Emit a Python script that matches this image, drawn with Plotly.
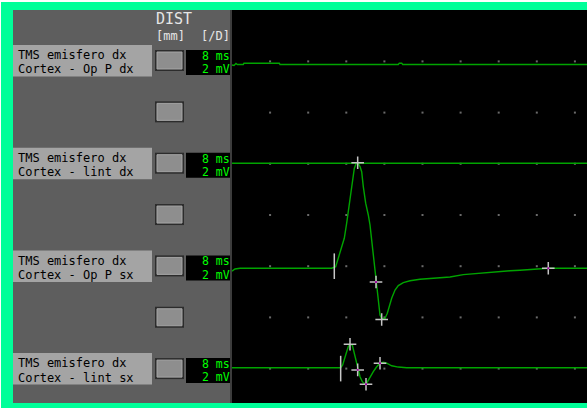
import plotly.graph_objects as go

W, H = 587, 409

# ---- channel labels -------------------------------------------------------
label_top = ["TMS emisfero dx", "TMS emisfero dx", "TMS emisfero dx", "TMS emisfero dx"]
label_bottom = ["Cortex - Op P dx", "Cortex - lint dx", "Cortex - Op P sx", "Cortex - lint sx"]
time_div = ["8 ms", "8 ms", "8 ms", "8 ms"]
amp_div = ["2 mV", "2 mV", "2 mV", "2 mV"]

# ---- traces: time (ms) and amplitude (mV) -------------------------------
t1 = [0, 0.42, 0.84, 1.11, 2.37, 2.52, 9.93, 10.08, 34.92, 35.13, 35.63, 35.84, 74.54]
v1 = [-0.14, -0.16, -0.08, -0.12, -0.12, -0.07, -0.07, -0.12, -0.12, -0.07, -0.07, -0.12, -0.12]

t2 = [0, 74.54]
v2 = [0.02, 0.02]

t3 = [0, 0.63, 1.68, 20.93, 21.77, 22.32, 23.03, 23.58, 24.08, 24.57, 24.99, 25.34,
      25.68, 26.04, 26.39, 26.88, 27.23, 27.57, 28.07, 28.62, 28.98, 29.33, 29.67,
      30.03, 30.38, 30.72, 31.08, 31.43, 32.13, 32.61, 33.03, 33.53, 34.23, 34.92,
      35.97, 37.38, 39.48, 42.27, 45.77, 48.57, 51.38, 54.17, 55.92, 58.37, 60.47,
      62.57, 65.36, 66.41, 74.54]
v3 = [-0.19, -0.11, -0.08, -0.08, -0.02, 0.31, 0.70, 1.09, 1.68, 2.32, 2.98, 3.43,
      3.82, 3.99, 4.04, 3.89, 3.69, 3.11, 2.46, 2.00, 1.61, 1.02, 0.44,
      -0.15, -0.80, -1.45, -1.91, -2.04, -2.04, -1.84, -1.58, -1.25, -0.93, -0.76,
      -0.64, -0.57, -0.51, -0.47, -0.42, -0.33, -0.28, -0.24, -0.20, -0.18, -0.16,
      -0.14, -0.11, -0.08, -0.08]

t4 = [0, 22.82, 23.24, 23.73, 24.08, 24.42, 24.78, 25.26, 25.68, 26.04, 26.39, 26.88,
      27.36, 27.93, 28.28, 28.83, 29.67, 30.38, 31.08, 31.77, 32.48, 33.53, 34.92,
      36.68, 74.54]
v4 = [0.035, 0.035, 0.14, 0.40, 0.66, 0.86, 0.95, 0.92, 0.60, 0.27, -0.05, -0.32,
      -0.51, -0.60, -0.57, -0.38, -0.12, 0.07, 0.21, 0.25, 0.21, 0.11, 0.06,
      0.035, 0.035]

# stimulus instants (ms) and cursor positions (ms, mV) per channel
stim_t = [None, None, 21.48, 22.82]
cursor_t = [[], [], [26.39, 30.24, 31.43, 66.41], [24.78, 26.39, 28.14, 31.08]]
cursor_v = [[], [], [4.04, -0.62, -2.08, -0.08], [0.95, -0.05, -0.61, 0.21]]
cursor_mid = [[], [], [False, True, False, True], [False, True, True, True]]

traces_t = [t1, t2, t3, t4]
traces_v = [v1, v2, v3, v4]

# ---- display scale --------------------------------------------------------
MS_PER_DIV = 8
MV_PER_DIV = 2
offsets = [12, 8, 4, 0]          # vertical position of each channel (mV units)
x_range = [-48.71, 74.54]
y_range = [-1.578, 14.398]
grid_t = [MS_PER_DIV * k for k in range(1, 10)]
grid_v = [MV_PER_DIV * k for k in range(0, 7)]

GREEN = "#00a400"
MINT = "#00ff99"


def px(x):
    return x / W


def py(y):
    return 1 - y / H


fig = go.Figure()

# grid dots
gx, gy = [], []
for v in grid_v:
    for t in grid_t:
        gx.append(t)
        gy.append(v)
fig.add_trace(go.Scatter(x=gx, y=gy, mode="markers",
                         marker=dict(symbol="square", size=2, color="#6a6a6a"),
                         hoverinfo="skip"))

# waveforms
for i in range(4):
    fig.add_trace(go.Scatter(x=traces_t[i], y=[v + offsets[i] for v in traces_v[i]],
                             mode="lines", line=dict(color=GREEN, width=1.4),
                             hoverinfo="skip"))

# stimulus markers
for i in range(4):
    if stim_t[i] is None:
        continue
    fig.add_trace(go.Scatter(x=[stim_t[i], stim_t[i]],
                             y=[offsets[i] - 0.5, offsets[i] + 0.5],
                             mode="lines", line=dict(color="#c8c8c8", width=1.5),
                             hoverinfo="skip"))

# latency / amplitude cursors
for i in range(4):
    if not cursor_t[i]:
        continue
    ys = [v + offsets[i] for v in cursor_v[i]]
    fig.add_trace(go.Scatter(x=cursor_t[i], y=ys, mode="markers",
                             marker=dict(symbol="cross-thin", size=9,
                                         line=dict(color="#c4c4c4", width=1.5)),
                             hoverinfo="skip"))
    mx = [t for t, m in zip(cursor_t[i], cursor_mid[i]) if m]
    my = [y for y, m in zip(ys, cursor_mid[i]) if m]
    fig.add_trace(go.Scatter(x=mx, y=my, mode="markers",
                             marker=dict(symbol="square", size=2, color="#a000a0"),
                             hoverinfo="skip"))

shapes = []


def rect(x0, y0, x1, y1, fill, line=None, lw=0):
    shapes.append(dict(type="rect", xref="paper", yref="paper",
                       x0=px(x0), x1=px(x1), y0=py(y1), y1=py(y0),
                       fillcolor=fill, layer="below",
                       line=dict(color=line or fill, width=lw)))


# frame and panels
rect(1, 2, 590, 408, MINT)
rect(13, 10, 590, 403, "#5e5e5e")
rect(230, 10, 590, 403, "#3c3c3c")
rect(232, 10, 590, 403, "#000000")

annotations = []


def text(x, y, s, size, color, anchor="left"):
    annotations.append(dict(x=px(x), y=py(y), xref="paper", yref="paper",
                            text=s, showarrow=False, xanchor=anchor, yanchor="middle",
                            borderpad=0,
                            font=dict(family="DejaVu Sans Mono", size=size, color=color)))


text(173.5, 19.5, "DIST", 15, "#e6e6e6", "center")
text(170, 35.5, "[mm]", 12, "#e6e6e6", "center")
text(215.5, 35.5, "[/D]", 12, "#e6e6e6", "center")

ROW = 102.7
for j in range(7):
    y0 = 50 + ROW / 2 * j
    rect(155, y0, 184, y0 + 21, "#2c2c2c")
    rect(157, y0 + 2, 182, y0 + 19, "#8e8e8e", "#a6a6a6", 1)

for i in range(4):
    top = 45 + ROW * i
    rect(13, top, 152, top + 31.5, "#a4a4a4")
    text(17, top + 10.2, label_top[i], 12, "#000000")
    text(17, top + 24.4, label_bottom[i], 12, "#000000")
    vt = 50 + ROW * i
    rect(186, vt, 230, vt + 25, "#000000")
    text(230.5, vt + 5.8, time_div[i], 11.5, "#00ff00", "right")
    text(230.5, vt + 19.2, amp_div[i], 11.5, "#00ff00", "right")

fig.update_layout(
    width=W, height=H, autosize=False,
    margin=dict(l=0, r=0, t=0, b=0),
    paper_bgcolor="#ffffff", plot_bgcolor="rgba(0,0,0,0)",
    showlegend=False,
    xaxis=dict(range=x_range, visible=False, domain=[0, 1], fixedrange=True),
    yaxis=dict(range=y_range, visible=False, domain=[0, 1], fixedrange=True),
    shapes=shapes, annotations=annotations,
)

fig.write_html("out.html", config={"displayModeBar": False})
